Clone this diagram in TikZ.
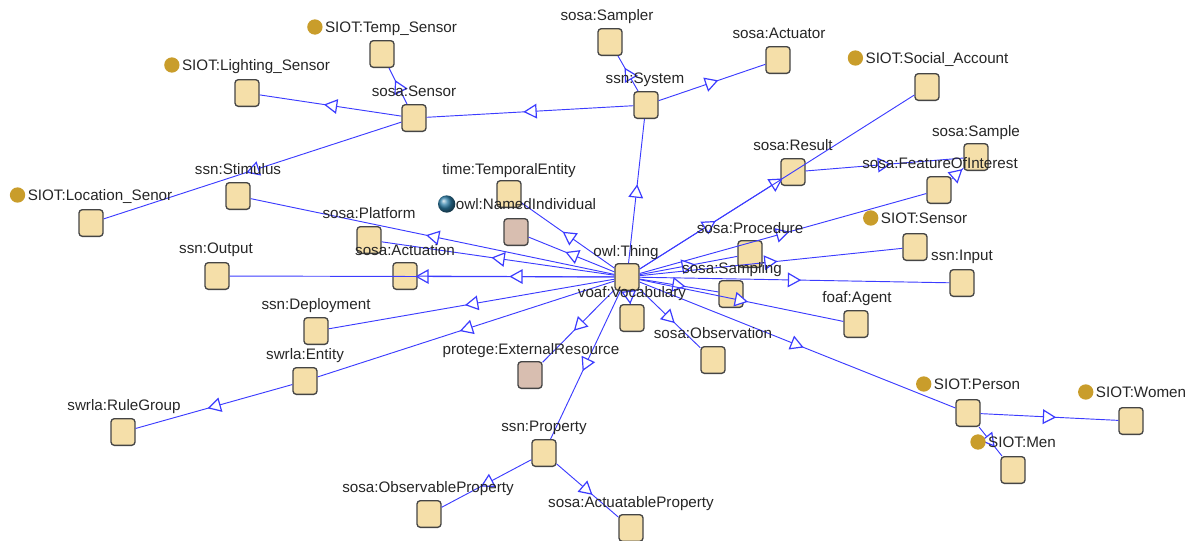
\documentclass[tikz,border=0pt]{standalone}
\usepackage{fontspec}
\setmainfont{Liberation Sans}
\usetikzlibrary{positioning, arrows.meta, decorations.markings}
\definecolor{wheat}{HTML}{F5DFA9}
\definecolor{rosy}{HTML}{D8BEB0}
\definecolor{gold}{HTML}{C99D2B}
\definecolor{linkblue}{HTML}{3C3CFF}
\definecolor{boxline}{HTML}{454545}
\definecolor{globeblue}{HTML}{2F7FA8}
\tikzset{cls/.style={draw=boxline, fill=wheat, rounded corners=2.5pt, minimum width=18pt, minimum height=20pt, inner sep=0pt, line width=1pt}}
\tikzset{inst/.style={cls, fill=rosy}}
\tikzset{lbl/.style={inner sep=0pt, text height=8.2pt, text depth=0pt, font=\fontsize{11.4}{13}\selectfont, text=black!85}}
\tikzset{dot/.style={circle, fill=gold, inner sep=0pt, minimum size=11.5pt}}
\tikzset{globe/.style={circle, inner sep=0pt, minimum size=13pt, ball color=globeblue}}
\tikzset{isa/.style={draw, color=linkblue, line width=0.7pt, postaction={decorate},
  decoration={markings, mark=at position 0.5 with {\arrow[xshift=5pt]{Triangle[length=10pt, width=11pt, fill=white, line width=0.9pt]}}}}}

\begin{document}
\begin{tikzpicture}[x=0.75pt, y=-0.75pt]
\useasboundingbox (0,0) rectangle (1192,540);
% classes
\node[cls] (thing) at (627,277) {};
\node[cls] (tempsensor) at (382,54) {};
\node[cls] (lightsensor) at (247,93) {};
\node[cls] (sensor) at (414,118) {};
\node[cls] (sampler) at (610,42) {};
\node[cls] (system) at (646,105) {};
\node[cls] (actuator) at (778,60) {};
\node[cls] (social) at (927,87) {};
\node[cls] (sample) at (976,157) {};
\node[cls] (result) at (793,172) {};
\node[cls] (foi) at (939,190) {};
\node[cls] (stimulus) at (238,196) {};
\node[cls] (locsensor) at (91,223) {};
\node[cls] (temporal) at (509,194) {};
\node[inst] (namedind) at (516,232) {};
\node[cls] (platform) at (369,240) {};
\node[cls] (siotsensor) at (915,247) {};
\node[cls] (procedure) at (750,254) {};
\node[cls] (output) at (217,276) {};
\node[cls] (actuation) at (405,276) {};
\node[cls] (input) at (962,283) {};
\node[cls] (sampling) at (731,294) {};
\node[cls] (vocab) at (632,318) {};
\node[cls] (agent) at (856,324) {};
\node[cls] (deployment) at (316,331) {};
\node[cls] (observation) at (713,360) {};
\node[inst] (extres) at (530,375) {};
\node[cls] (entity) at (305,381) {};
\node[cls] (person) at (968,413) {};
\node[cls] (women) at (1131,421) {};
\node[cls] (rulegroup) at (123,432) {};
\node[cls] (property) at (544,453) {};
\node[cls] (men) at (1013,470) {};
\node[cls] (obsprop) at (429,514) {};
\node[cls] (actprop) at (631,528) {};

% subclass links
\draw[isa] (thing) -- (system);
\draw[isa] (thing) -- (social);
\draw[isa] (thing) -- (result);
\draw[isa] (thing) -- (foi);
\draw[isa] (thing) -- (siotsensor);
\draw[isa] (thing) -- (procedure);
\draw[isa] (thing) -- (input);
\draw[isa] (thing) -- (sampling);
\draw[isa] (thing) -- (agent);
\draw[isa] (thing) -- (person);
\draw[isa] (thing) -- (observation);
\draw[isa] (thing) -- (vocab);
\draw[isa] (thing) -- (property);
\draw[isa] (thing) -- (extres);
\draw[isa] (thing) -- (entity);
\draw[isa] (thing) -- (deployment);
\draw[isa] (thing) -- (output);
\draw[isa] (thing) -- (actuation);
\draw[isa] (thing) -- (platform);
\draw[isa] (thing) -- (stimulus);
\draw[isa] (thing) -- (temporal);
\draw[isa] (thing) -- (namedind);
\draw[isa] (system) -- (sensor);
\draw[isa] (system) -- (sampler);
\draw[isa] (system) -- (actuator);
\draw[isa] (sensor) -- (tempsensor);
\draw[isa] (sensor) -- (lightsensor);
\draw[isa] (sensor) -- (locsensor);
\draw[isa] (result) -- (sample);
\draw[isa] (foi) -- (sample);
\draw[isa] (entity) -- (rulegroup);
\draw[isa] (property) -- (obsprop);
\draw[isa] (property) -- (actprop);
\draw[isa] (person) -- (women);
\draw[isa] (person) -- (men);

% labels
\node[lbl] (Ltemp) at (391,27) {SIOT:Temp\_Sensor};
\node[lbl] (Llight) at (256,65) {SIOT:Lighting\_Sensor};
\node[lbl] (Lsensor) at (414,91) {sosa:Sensor};
\node[lbl] (Lsampler) at (607,15) {sosa:Sampler};
\node[lbl] (Lsystem) at (645,78) {ssn:System};
\node[lbl] (Lactuator) at (779,33) {sosa:Actuator};
\node[lbl] (Lsocial) at (937,58) {SIOT:Social\_Account};
\node[lbl] (Lsample) at (976,131) {sosa:Sample};
\node[lbl] (Lresult) at (793,145) {sosa:Result};
\node[lbl] (Lfoi) at (940,163) {sosa:FeatureOfInterest};
\node[lbl] (Lstimulus) at (238,169) {ssn:Stimulus};
\node[lbl] (Lloc) at (100,195) {SIOT:Location\_Senor};
\node[lbl] (Ltemporal) at (509,169) {time:TemporalEntity};
\node[lbl] (Lnamed) at (526,204) {owl:NamedIndividual};
\node[lbl] (Lplatform) at (369,213) {sosa:Platform};
\node[lbl] (Lsiot) at (924,218) {SIOT:Sensor};
\node[lbl] (Lprocedure) at (750,228) {sosa:Procedure};
\node[lbl] (Lthing) at (626,251) {owl:Thing};
\node[lbl] (Loutput) at (216,248) {ssn:Output};
\node[lbl] (Lactuation) at (405,250) {sosa:Actuation};
\node[lbl] (Linput) at (962,255) {ssn:Input};
\node[lbl] (Lsampling) at (732,268) {sosa:Sampling};
\node[lbl] (Lvocab) at (632,292) {voaf:Vocabulary};
\node[lbl] (Lagent) at (857,297) {foaf:Agent};
\node[lbl] (Ldeploy) at (316,304) {ssn:Deployment};
\node[lbl] (Lobs) at (713,333) {sosa:Observation};
\node[lbl] (Lextres) at (531,349) {protege:ExternalResource};
\node[lbl] (Lentity) at (305,354) {swrla:Entity};
\node[lbl] (Lperson) at (977,384) {SIOT:Person};
\node[lbl] (Lwomen) at (1141,392) {SIOT:Women};
\node[lbl] (Lrule) at (124,405) {swrla:RuleGroup};
\node[lbl] (Lproperty) at (544,426) {ssn:Property};
\node[lbl] (Lmen) at (1022,442) {SIOT:Men};
\node[lbl] (Lobsprop) at (428,487) {sosa:ObservableProperty};
\node[lbl] (Lactprop) at (631,502) {sosa:ActuatableProperty};

% individual markers
\node[dot, left=1.5pt of Ltemp] (Dtemp) {};
\node[dot, left=1.5pt of Llight] (Dlight) {};
\node[dot, left=1.5pt of Lloc] (Dloc) {};
\node[dot, left=1.5pt of Lsocial] (Dsocial) {};
\node[dot, left=1.5pt of Lsiot] (Dsiot) {};
\node[dot, left=1.5pt of Lperson] (Dperson) {};
\node[dot, left=1.5pt of Lwomen] (Dwomen) {};
\node[dot, left=1.5pt of Lmen] (Dmen) {};
\node[globe, left=0pt of Lnamed] (Gnamed) {};
\end{tikzpicture}
\end{document}
